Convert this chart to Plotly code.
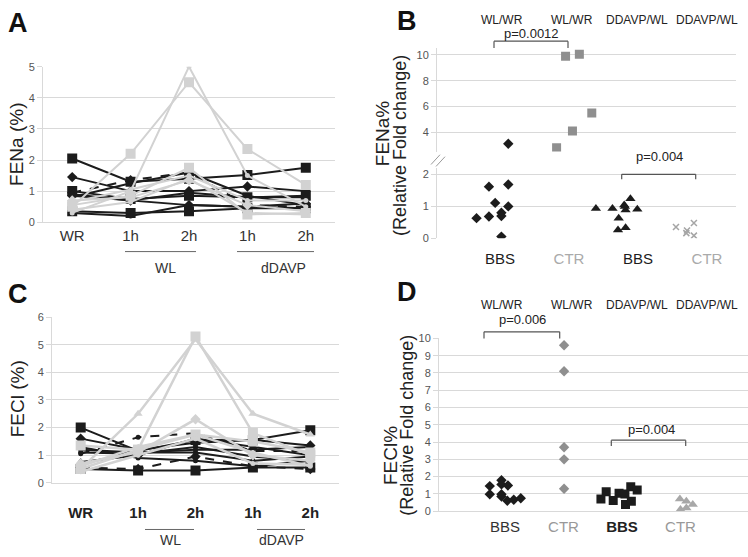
import plotly.graph_objects as go

W, H = 748, 557
def px(x): return x / W
def py(y): return 1 - y / H

FONT = "Liberation Sans, Arial, sans-serif"
BLACK = "#1c1c1c"
LGRAY = "#d2d2d2"
GRID = "#d9d9d9"
TICK = "#555555"

# ---------------- data ----------------
timepoints = ["WR", "1h", "2h", "1h", "2h"]
tp_x = [0, 1, 2, 3, 4]

fena_bbs = [
    [2.05, 1.30, 1.40, 1.52, 1.75],
    [1.45, 1.00, 1.00, 1.15, 1.00],
    [0.95, 1.35, 1.60, 0.55, 0.50],
    [1.00, 0.75, 0.85, 0.80, 0.85],
    [0.35, 0.30, 0.35, 0.45, 0.45],
    [0.30, 0.20, 0.55, 0.50, 0.45],
    [0.90, 0.70, 0.95, 0.80, 0.80],
    [0.80, 1.25, 1.60, 0.85, 0.55],
    [0.85, 0.70, 0.55, 0.50, 0.60],
]
fena_ctr = [
    [0.50, 2.20, 4.50, 2.35, 1.20],
    [0.30, 1.00, 5.00, 1.50, 0.50],
    [0.55, 0.85, 1.75, 0.25, 0.30],
    [0.40, 0.65, 1.40, 0.30, 0.25],
    [0.65, 1.05, 1.50, 0.70, 0.70],
    [0.70, 0.80, 1.35, 0.55, 0.35],
]

fecl_bbs = [
    [2.00, 1.15, 1.55, 1.55, 1.90],
    [1.60, 1.20, 1.45, 1.55, 1.35],
    [1.05, 1.65, 1.80, 1.15, 1.15],
    [0.50, 0.45, 0.45, 0.55, 0.55],
    [0.55, 0.50, 0.95, 0.60, 0.50],
    [1.30, 0.90, 0.80, 0.60, 0.80],
    [1.10, 1.05, 1.30, 0.95, 0.80],
    [1.20, 1.10, 1.10, 0.80, 0.95],
    [0.75, 1.00, 1.60, 1.30, 1.00],
    [0.70, 1.10, 1.20, 1.20, 1.30],
]
fecl_ctr = [
    [0.50, 1.20, 5.30, 1.80, 1.00],
    [0.50, 2.50, 5.20, 2.50, 1.75],
    [0.70, 1.10, 2.30, 1.00, 0.80],
    [1.35, 1.20, 1.75, 1.50, 1.10],
    [0.60, 1.30, 1.75, 1.10, 0.60],
    [0.40, 1.00, 1.60, 0.70, 0.65],
]

group_labels = ["BBS", "CTR", "BBS", "CTR"]
ratio_labels = ["WL/WR", "WL/WR", "DDAVP/WL", "DDAVP/WL"]

# panel B (FENa fold change): jittered positions around groups 1..4
b_bbs_wl_x = [1.12, 0.66, 0.84, 0.84, 0.93, 1.02, 1.02, 1.12, 1.12, 1.02]
b_bbs_wl_y = [3.10, 0.63, 0.68, 1.62, 1.11, 0.80, 0.70, 1.69, 1.00, 0.05]
b_ctr_wl_x = [1.95, 2.15, 2.33, 2.05, 1.82]
b_ctr_wl_y = [9.90, 10.05, 5.50, 4.10, 2.80]
b_bbs_dd_x = [2.39, 2.63, 2.80, 2.82, 2.89, 2.99, 2.72, 2.71, 2.82, 2.81]
b_bbs_dd_y = [0.93, 0.93, 1.04, 0.89, 1.24, 0.91, 0.63, 0.26, 0.33, 1.00]
b_ctr_dd_x = [3.55, 3.71, 3.81, 3.81, 3.70]
b_ctr_dd_y = [0.35, 0.24, 0.48, 0.08, 0.16]

# panel D (FECl fold change)
d_bbs_wl_x = [0.74, 0.74, 0.94, 0.94, 1.05, 0.94, 0.94, 1.04, 1.15, 1.27]
d_bbs_wl_y = [1.45, 0.98, 1.79, 1.55, 1.49, 0.98, 0.85, 0.60, 0.66, 0.75]
d_ctr_wl_x = [2.01, 2.01, 2.01, 2.01, 2.01]
d_ctr_wl_y = [9.60, 8.10, 3.70, 3.00, 1.30]
d_bbs_dd_x = [2.64, 2.73, 2.85, 2.95, 3.05, 3.06, 3.16, 3.15, 3.26]
d_bbs_dd_y = [0.70, 1.13, 0.62, 1.04, 1.00, 0.38, 0.57, 1.41, 1.22]
d_ctr_dd_x = [3.99, 4.00, 4.10, 4.10, 4.21]
d_ctr_dd_y = [0.70, 0.10, 0.57, 0.19, 0.38]

# ---------------- styles ----------------
a_bbs_sym = ["square", "diamond", "diamond", "square", "square", "circle", "triangle-up", "circle", "diamond"]
a_bbs_dash = ["solid", "solid", "dash", "solid", "solid", "solid", "solid", "solid", "solid"]
a_ctr_sym = ["square", "circle", "square", "circle", "circle", "diamond"]
c_bbs_sym = ["square", "diamond", "circle", "square", "diamond", "circle", "circle", "circle", "triangle-up", "circle"]
c_bbs_dash = ["solid", "solid", "dash", "solid", "dash", "solid", "solid", "solid", "solid", "solid"]
c_ctr_sym = ["square", "triangle-up", "diamond", "square", "circle", "circle"]
SIZES = {"square": 10, "diamond": 8, "circle": 5, "triangle-up": 8}

fig = go.Figure()

def add_lines(data, syms, dashes, color, xa, ya, width=2):
    for vals, s, d in zip(data, syms, dashes):
        fig.add_trace(go.Scatter(
            x=tp_x, y=vals, mode="lines+markers",
            line=dict(color=color, width=width, dash=d),
            marker=dict(symbol=s, size=SIZES[s], color=color),
            xaxis=xa, yaxis=ya, showlegend=False))

add_lines(fena_bbs, a_bbs_sym, a_bbs_dash, BLACK, "x", "y")
add_lines(fena_ctr, a_ctr_sym, ["solid"] * len(fena_ctr), LGRAY, "x", "y")
add_lines(fecl_bbs, c_bbs_sym, c_bbs_dash, BLACK, "x3", "y5")
add_lines(fecl_ctr, c_ctr_sym, ["solid"] * len(fecl_ctr), LGRAY, "x3", "y5", width=2.5)

# panel B: split values between the broken axes
def add_split(xs, ys, sym, size, color):
    lo = [(a, b) for a, b in zip(xs, ys) if b <= 2.2]
    hi = [(a, b) for a, b in zip(xs, ys) if b > 2.2]
    for pts, ya in ((lo, "y2"), (hi, "y3")):
        if pts:
            fig.add_trace(go.Scatter(
                x=[p[0] for p in pts], y=[p[1] for p in pts], mode="markers",
                marker=dict(symbol=sym, size=size, color=color,
                            line=dict(color=color, width=1.5 if sym == "x-thin" else 0)),
                xaxis="x2", yaxis=ya, showlegend=False))

add_split(b_bbs_wl_x, b_bbs_wl_y, "diamond", 8, BLACK)
add_split(b_ctr_wl_x, b_ctr_wl_y, "square", 9, "#8f8f8f")
add_split(b_bbs_dd_x, b_bbs_dd_y, "triangle-up", 9, BLACK)
add_split(b_ctr_dd_x, b_ctr_dd_y, "x-thin", 6, "#a5a5a5")

for xs, ys, sym, size, color in [
    (d_bbs_wl_x, d_bbs_wl_y, "diamond", 8, BLACK),
    (d_ctr_wl_x, d_ctr_wl_y, "diamond", 8, "#8f8f8f"),
    (d_bbs_dd_x, d_bbs_dd_y, "square", 9, BLACK),
    (d_ctr_dd_x, d_ctr_dd_y, "triangle-up", 9, "#a8a8a8"),
]:
    fig.add_trace(go.Scatter(x=xs, y=ys, mode="markers",
                             marker=dict(symbol=sym, size=size, color=color),
                             xaxis="x4", yaxis="y4", showlegend=False))

# ---------------- axes ----------------
yax = dict(showgrid=True, gridcolor=GRID, gridwidth=1, showline=True, linecolor=GRID,
           ticks="outside", ticklen=5, tickcolor=GRID, zeroline=False,
           tickfont=dict(family=FONT, size=11, color=TICK))
xax = dict(showgrid=False, zeroline=False, showline=True, linecolor=GRID, ticks="")

grp_text_b = [f"<span style='color:{c}'>{t}</span>" for t, c in
              zip(group_labels, ["#1c1c1c", "#aaaaaa", "#1c1c1c", "#aaaaaa"])]
grp_text_d = [f"<span style='color:#333333'>{group_labels[0]}</span>",
              f"<span style='color:#999999'>{group_labels[1]}</span>",
              f"<b>{group_labels[2]}</b>",
              f"<span style='color:#999999'>{group_labels[3]}</span>"]

fig.update_layout(
    width=W, height=H, margin=dict(l=0, r=0, t=0, b=0),
    paper_bgcolor="white", plot_bgcolor="white", hovermode=False,
    font=dict(family=FONT, color="#222222"),
    xaxis=dict(xax, domain=[px(43), px(335)], range=[-0.5, 4.5], anchor="y",
               tickvals=tp_x, ticktext=timepoints,
               tickfont=dict(family=FONT, size=15, color="#333333")),
    yaxis=dict(yax, domain=[py(221), py(62)], range=[0, 5], dtick=1, anchor="x"),
    xaxis3=dict(xax, domain=[px(52), px(339)], range=[-0.5, 4.5], anchor="y5",
                tickvals=tp_x, ticktext=[f"<b>{t}</b>" for t in timepoints],
                ticklabelstandoff=16,
                tickfont=dict(family=FONT, size=15, color="#222222")),
    yaxis5=dict(yax, domain=[py(487.3), py(318)], range=[0, 6], dtick=1, anchor="x3"),
    xaxis2=dict(xax, domain=[px(437), px(736)], range=[0.087, 4.42], anchor="y2",
                tickvals=[1, 2, 3, 4], ticktext=grp_text_b, ticklabelstandoff=10,
                showline=False, tickfont=dict(family=FONT, size=15)),
    yaxis2=dict(yax, domain=[py(237.3), py(165.8)], range=[0, 2.2],
                tickvals=[0, 1, 2], anchor="x2"),
    yaxis3=dict(yax, domain=[py(148.75), py(43.4)], range=[2.5, 10.5],
                tickvals=[4, 6, 8, 10], anchor="x2"),
    xaxis4=dict(xax, domain=[px(439), 1.0], range=[-0.128, 5.154], anchor="y4",
                tickvals=[1, 2, 3, 4], ticktext=grp_text_d, ticklabelstandoff=2,
                tickfont=dict(family=FONT, size=15)),
    yaxis4=dict(yax, domain=[py(516.3), py(339.7)], range=[0, 10], dtick=1, anchor="x4"),
)

# ---------------- annotations & shapes ----------------
ann = []
def text(x, y, s, size, color="#222222", bold=False, angle=0):
    ann.append(dict(x=px(x), y=py(y), xref="paper", yref="paper", text=f"<b>{s}</b>" if bold else s,
                    showarrow=False, textangle=angle, xanchor="center", yanchor="middle",
                    font=dict(family=FONT, size=size, color=color)))

text(18, 17, "A", 27, "#111111", bold=True)
text(407, 15, "B", 27, "#111111", bold=True)
text(18, 294, "C", 27, "#111111", bold=True)
text(407, 292, "D", 27, "#111111", bold=True)

text(17, 142, "FENa (%)", 19, "#222222", angle=-90)
text(17, 402, "FECl (%)", 19, "#222222", angle=-90)
text(382, 130, "FENa%", 19, "#222222", angle=-90)
text(400, 143, "(Relative Fold change)", 18, "#222222", angle=-90)
text(390, 460, "FECl%", 19, "#222222", angle=-90)
text(407, 428, "(Relative Fold change)", 18, "#222222", angle=-90)

for xpos, lab in zip([502, 572, 637, 707], ratio_labels):
    text(xpos, 14, lab, 12)
    text(xpos, 306, lab, 12)

text(531, 28, "p=0.0012", 13)
text(659, 154, "p=0.004", 13)
text(522, 320, "p=0.006", 13)
text(651, 433, "p=0.004", 13)

text(165, 268, "WL", 14, "#333333")
text(283, 268, "dDAVP", 14, "#333333")
text(170, 546, "WL", 14, "#333333")
text(281, 546, "dDAVP", 14, "#333333")

shapes = []
def seg(x0, y0, x1, y1, color="#555555", w=1.2):
    shapes.append(dict(type="line", xref="paper", yref="paper",
                       x0=px(x0), y0=py(y0), x1=px(x1), y1=py(y1),
                       line=dict(color=color, width=w)))

def bracket(x0, x1, ytop, ybot):
    seg(x0, ybot, x0, ytop)
    seg(x0, ytop, x1, ytop)
    seg(x1, ytop, x1, ybot)

bracket(494, 568, 36, 43)
bracket(621.7, 695.7, 172, 177)
bracket(484, 559.7, 333, 339.7)
bracket(611.3, 685.7, 443.7, 449.7)

seg(125, 251, 196, 251, "#666666", 1)
seg(237, 251, 314, 251, "#666666", 1)
seg(145, 535, 194, 535, "#666666", 1)
seg(257, 535, 305, 535, "#666666", 1)

# axis-break marks
seg(431, 162, 440, 152, "#9a9a9a", 1)
seg(436, 164, 445, 154, "#9a9a9a", 1)

fig.update_layout(annotations=ann, shapes=shapes)
fig.write_html("out.html", config={"displayModeBar": False, "staticPlot": True},
               post_script="document.body.style.margin='0';document.body.style.overflow='hidden';")
